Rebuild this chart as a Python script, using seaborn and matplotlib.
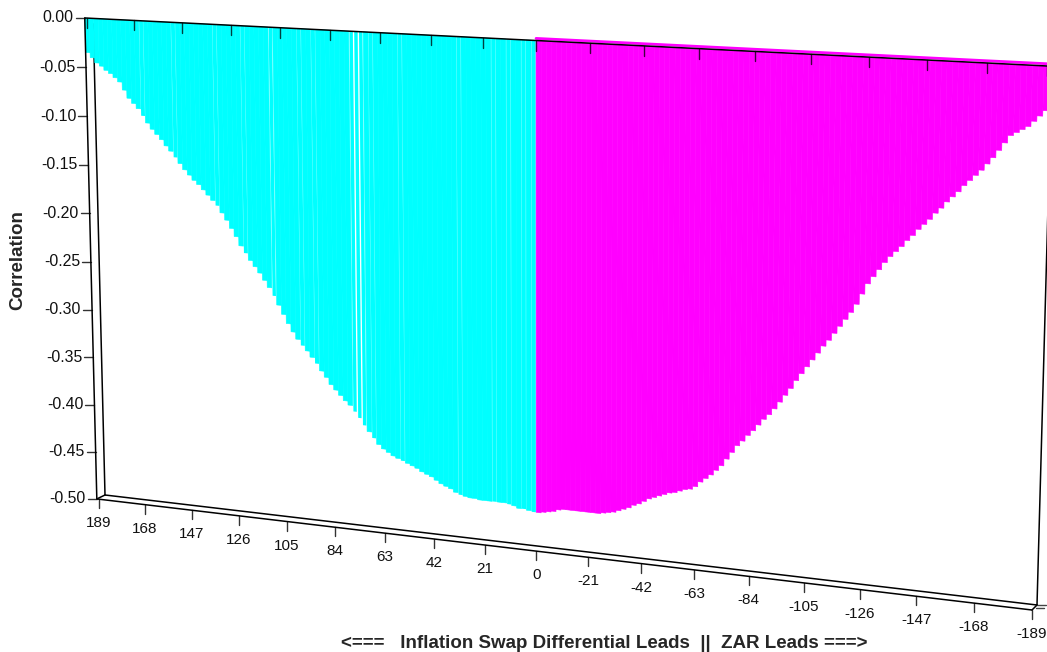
# correlation by lead/lag, drawn as the tilted 3D style bar chart
import numpy as np
import pandas as pd
import seaborn as sns
import matplotlib.pyplot as plt
import matplotlib.transforms as mtransforms

cyan_lags = list(range(189, 0, -2))
cyan_corr = [
    -.035, -.040, -.045, -.048, -.052, -.055, -.059, -.063, -.071, -.079,
    -.084, -.089, -.096, -.103, -.109, -.114, -.119, -.125, -.130, -.136,
    -.142, -.148, -.153, -.158, -.162, -.167, -.172, -.177, -.182, -.189,
    -.196, -.204, -.212, -.221, -.228, -.235, -.241, -.247, -.254, -.261,
    -.269, -.278, -.287, -.296, -.304, -.311, -.317, -.322, -.328, -.334,
    -.341, -.347, -.354, -.359, -.364, -.369, -.373, -.379, -.385, -.392,
    -.398, -.404, -.410, -.414, -.417, -.420, -.422, -.424, -.426, -.428,
    -.430, -.433, -.435, -.437, -.440, -.443, -.445, -.447, -.450, -.452,
    -.453, -.454, -.454, -.455, -.455, -.455, -.455, -.455, -.455, -.456,
    -.457, -.459, -.459, -.460, -.461,
]
magenta_lags = list(range(-1, -190, -2))
magenta_corr = [
    -.461, -.460, -.459, -.458, -.456, -.455, -.455, -.455, -.455, -.455,
    -.455, -.455, -.455, -.454, -.453, -.452, -.450, -.448, -.446, -.443,
    -.441, -.438, -.435, -.433, -.431, -.429, -.427, -.426, -.424, -.422,
    -.421, -.418, -.413, -.409, -.405, -.400, -.395, -.388, -.381, -.374,
    -.369, -.363, -.358, -.352, -.346, -.341, -.335, -.328, -.321, -.314,
    -.306, -.299, -.292, -.285, -.278, -.271, -.265, -.258, -.251, -.244,
    -.237, -.229, -.219, -.209, -.202, -.195, -.188, -.182, -.177, -.172,
    -.166, -.161, -.155, -.150, -.145, -.139, -.134, -.128, -.123, -.118,
    -.112, -.107, -.102, -.097, -.091, -.085, -.078, -.071, -.064, -.061,
    -.058, -.055, -.050, -.045, -.040,
]
x_ticks = [189, 168, 147, 126, 105, 84, 63, 42, 21, 0, -21, -42, -63, -84, -105, -126, -147, -168, -189]
y_ticks = [0.00, -0.05, -0.10, -0.15, -0.20, -0.25, -0.30, -0.35, -0.40, -0.45, -0.50]

# cyan bars that leave a visible white seam in the picture
wide_gaps = [109, 75, 73, 71]
thin_gaps = [165, 151, 133, 121, 97, 91, 67, 55, 31, 17, 11, 5, 1]

# where the corners of the two walls land in the picture (pixels)
front_wall = [(87, 18.1), (1047, 66), (99, 499.2), (1032, 610)]
back_wall = [(93, 14), (1052, 62), (105, 495), (1037, 605)]


class Tilt(mtransforms.Transform):
    # perspective mapping of (lag, corr) onto picture pixels
    input_dims = 2
    output_dims = 2
    is_separable = False
    has_inverse = False

    def __init__(self, corners):
        super().__init__()
        src = [(189, 0), (-189, 0), (189, -0.5), (-189, -0.5)]
        a = []
        b = []
        for (u, v), (x, y) in zip(src, corners):
            a.append([u, v, 1, 0, 0, 0, -u * x, -v * x])
            a.append([0, 0, 0, u, v, 1, -u * y, -v * y])
            b += [x, y]
        self.h = np.append(np.linalg.solve(np.array(a, float), np.array(b, float)), 1).reshape(3, 3)

    def transform_non_affine(self, values):
        pts = np.column_stack([values, np.ones(len(values))]) @ self.h.T
        return pts[:, :2] / pts[:, 2:]


sns.set_style("white")
plt.rcParams['font.family'] = ['Liberation Sans', 'DejaVu Sans']
plt.rcParams['font.size'] = 11

df = pd.DataFrame({
    "lag": cyan_lags + magenta_lags,
    "corr": cyan_corr + magenta_corr,
    "side": ["inflation"] * len(cyan_lags) + ["zar"] * len(magenta_lags),
})

fig = plt.figure(figsize=(10.47, 6.52), dpi=100)
ax = fig.add_axes([0, 0, 1, 1])
sns.barplot(data=df, x="lag", y="corr", hue="side", palette={"inflation": "#00ffff", "zar": "#ff00ff"},
            native_scale=True, width=1, dodge=False, saturation=1, errorbar=None, legend=False,
            linewidth=0, ax=ax)

front = Tilt(front_wall)
back = Tilt(back_wall)
for bar in ax.patches:
    bar.set_transform(front + ax.transData)
    lag = bar.get_x() + bar.get_width() / 2
    if lag < 0:
        bar.set_edgecolor("#ff00ff")
        bar.set_linewidth(0.4)
    elif round(lag) in wide_gaps:
        bar.set_x(lag - 0.72)
        bar.set_width(1.44)
    elif round(lag) in thin_gaps:
        bar.set_x(lag - 0.85)
        bar.set_width(1.7)
    else:
        bar.set_edgecolor("#00ffff")
        bar.set_linewidth(0.4)

ax.set_xlim(0, 1047)
ax.set_ylim(652, 0)
ax.set_axis_off()


def wall_line(wall, lags, corrs, **kw):
    ax.plot(lags, corrs, color="black", lw=1.1, transform=wall + ax.transData, **kw)


# magenta runs a little above the top edge
ax.plot([0, -189], [0.002, 0.002], color="#ff00ff", lw=2, transform=front + ax.transData, zorder=3)

# frame
wall_line(front, [190, -189], [0, 0], zorder=5)
wall_line(front, [190, 190], [0, -0.5], zorder=5)
wall_line(front, [190, -189], [-0.5, -0.5], zorder=5)
wall_line(back, [189, 189], [-0.01, -0.5], zorder=0.5)
wall_line(back, [189, -189], [-0.5, -0.5], zorder=0.5)
wall_line(back, [-189, -189], [0, -0.5], zorder=6)

for lag_f, lag_b in [(190, 189), (-189, -189)]:
    p = front.transform(np.array([[lag_f, -0.5]]))[0]
    q = back.transform(np.array([[lag_b, -0.5]]))[0]
    ax.plot([p[0], q[0]], [p[1], q[1]], color="black", lw=1.1)

# short marks at the far right corner
q = back.transform(np.array([[-189, -0.5]]))[0]
ax.plot([q[0], q[0] + 9], [q[1], q[1]], color="#444444", lw=1)
ax.plot([q[0] - 1, q[0] + 7], [q[1] + 3, q[1] + 3], color="#444444", lw=1)

# y ticks on the left edge
for c in y_ticks:
    p = front.transform(np.array([[190, c]]))[0]
    ax.plot([p[0] - 9, p[0]], [p[1], p[1]], color="#333333", lw=1)
    ax.text(p[0] - 11, p[1], f"{c:.2f}", ha="right", va="center", color="#111111", fontsize=11.4)

# x ticks, top and bottom
for lag in x_ticks:
    p = front.transform(np.array([[lag, 0]]))[0]
    ax.plot([p[0], p[0]], [p[1], p[1] + 10], color="black", lw=1, alpha=0.75, zorder=5)
    p = front.transform(np.array([[lag, -0.5]]))[0]
    ax.plot([p[0], p[0]], [p[1], p[1] + 9], color="#333333", lw=1)
    ax.text(p[0], p[1] + 24, str(lag), ha="center", va="center", color="#111111")

ax.text(18, 260, "Correlation", rotation=90, ha="center", va="center", fontweight="bold", fontsize=13.5)
ax.text(604, 648, "<===   Inflation Swap Differential Leads  ||  ZAR Leads ===>",
        ha="center", va="baseline", fontweight="bold", fontsize=13.5)

fig.savefig("out.png", dpi=100)
